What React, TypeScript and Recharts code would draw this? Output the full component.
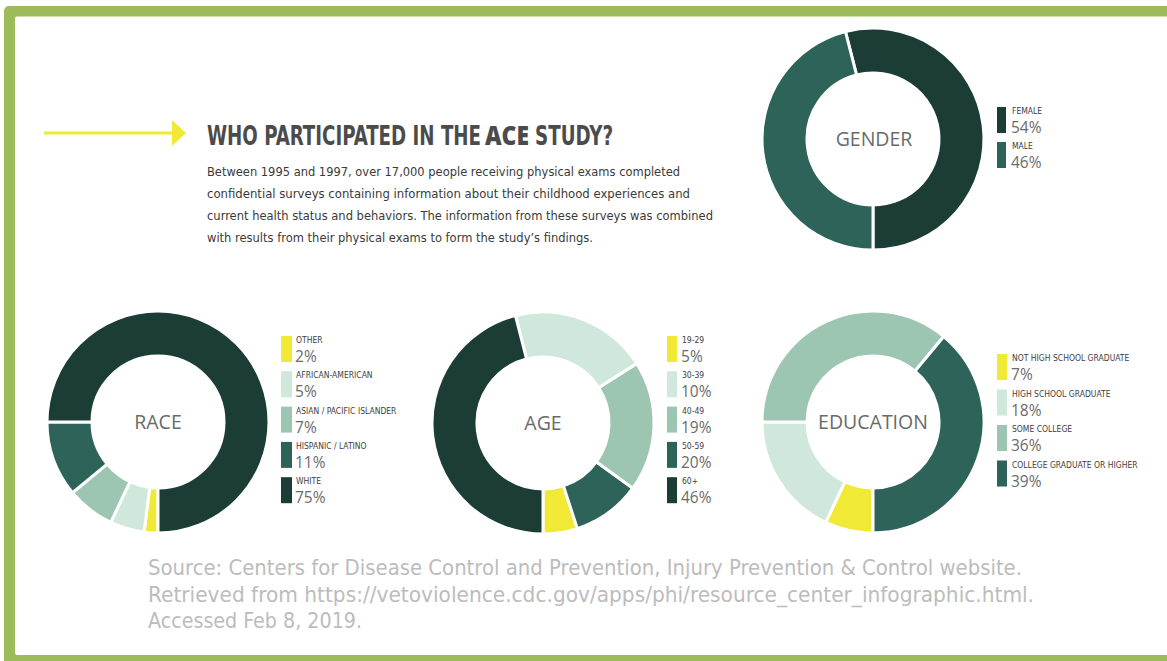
import { PieChart, Pie, Cell } from "recharts";

const palette = {
  dark: "#1c3d35",
  teal: "#2d6358",
  mid: "#9cc5b2",
  light: "#cfe8db",
  yellow: "#f0e935",
};

const genderLabels = ["FEMALE", "MALE"];
const genderValues = [54, 46];
const genderColors = [palette.dark, palette.teal];

const raceLabels = ["OTHER", "AFRICAN-AMERICAN", "ASIAN / PACIFIC ISLANDER", "HISPANIC / LATINO", "WHITE"];
const raceValues = [2, 5, 7, 11, 75];
const raceColors = [palette.yellow, palette.light, palette.mid, palette.teal, palette.dark];

const ageLabels = ["19-29", "30-39", "40-49", "50-59", "60+"];
const ageValues = [5, 10, 19, 20, 46];
const ageColors = [palette.yellow, palette.light, palette.mid, palette.teal, palette.dark];
// the original ring paints 30-39 and 50-59 with each other's colour
const ageSliceColors = [palette.yellow, palette.teal, palette.mid, palette.light, palette.dark];

const educationLabels = ["NOT HIGH SCHOOL GRADUATE", "HIGH SCHOOL GRADUATE", "SOME COLLEGE", "COLLEGE GRADUATE OR HIGHER"];
const educationValues = [7, 18, 36, 39];
const educationColors = [palette.yellow, palette.light, palette.mid, palette.teal];

const bodyLines = [
  "Between 1995 and 1997, over 17,000 people receiving physical exams completed",
  "confidential surveys containing information about their childhood experiences and",
  "current health status and behaviors. The information from these surveys was combined",
  "with results from their physical exams to form the study\u2019s findings.",
];
const bodyWidths = [473, 483, 506, 386];

const sourceLines = [
  "Source: Centers for Disease Control and Prevention, Injury Prevention & Control website.",
  "Retrieved from https://vetoviolence.cdc.gov/apps/phi/resource_center_infographic.html.",
  "Accessed Feb 8, 2019.",
];
const sourceWidths = [874, 886, 214];

const toRows = (labels: string[], values: number[]) =>
  labels.map((name, i) => ({ name, value: values[i] }));

const W = 1167;
const H = 661;
const narrow = "'Liberation Sans Narrow', 'DejaVu Sans Condensed', Roboto, sans-serif";
const soft = "'Open Sans', 'Noto Sans', sans-serif";

function Legend(props: { x: number; y: number; step: number; sw: number; labels: string[]; values: number[]; colors: string[] }) {
  const { x, y, step, sw, labels, values, colors } = props;
  return (
    <g>
      {labels.map((label, i) => {
        const top = y + i * step;
        return (
          <g key={label}>
            <rect x={x} y={top} width={sw} height={26} fill={colors[i]} />
            <text x={x + 15} y={top + 7} fontFamily={narrow} fontSize={8.5} fill="#3d3d3d">
              {label}
            </text>
            <text x={x + 14} y={top + 26} fontFamily={soft} fontSize={15.5} fill="#6b6b6b">
              {values[i]}%
            </text>
          </g>
        );
      })}
    </g>
  );
}

function CenterLabel(props: { x: number; y: number; text: string }) {
  return (
    <text x={props.x} y={props.y + 7} textAnchor="middle" fontFamily={soft} fontSize={19.5} fill="#6a6a6a">
      {props.text}
    </text>
  );
}

export default function App() {
  const ring = { innerRadius: 66, outerRadius: 111, stroke: "#ffffff", strokeWidth: 3, isAnimationActive: false };
  return (
    <div style={{ position: "absolute", left: 0, top: 0, width: W, height: H, background: "#fff", overflow: "hidden" }}>
      <svg width={W} height={H} style={{ position: "absolute", left: 0, top: 0 }}>
        <rect x={4} y={6} width={W + 20} height={H + 20} rx={5} fill="#9dbb5a" />
        <rect x={15} y={16.5} width={W + 20} height={638.5} rx={2} fill="#ffffff" />
      </svg>
      <div style={{ position: "absolute", left: 0, top: 0 }}>
        <PieChart width={W} height={H} margin={{ top: 0, right: 0, bottom: 0, left: 0 }}>
          <Pie data={toRows(genderLabels, genderValues)} dataKey="value" cx={873} cy={139} startAngle={-90} endAngle={270} {...ring}>
            {genderColors.map((c, i) => (
              <Cell key={i} fill={c} />
            ))}
          </Pie>
          <Pie data={toRows(raceLabels, raceValues)} dataKey="value" cx={158} cy={422} startAngle={-90} endAngle={-450} {...ring}>
            {raceColors.map((c, i) => (
              <Cell key={i} fill={c} />
            ))}
          </Pie>
          <Pie data={toRows(ageLabels, ageValues)} dataKey="value" cx={543} cy={423} startAngle={-90} endAngle={270} {...ring}>
            {ageSliceColors.map((c, i) => (
              <Cell key={i} fill={c} />
            ))}
          </Pie>
          <Pie data={toRows(educationLabels, educationValues)} dataKey="value" cx={873} cy={422} startAngle={-90} endAngle={-450} {...ring}>
            {educationColors.map((c, i) => (
              <Cell key={i} fill={c} />
            ))}
          </Pie>
        </PieChart>
      </div>
      <svg width={W} height={H} style={{ position: "absolute", left: 0, top: 0, pointerEvents: "none" }}>
        {/* arrow */}
        <line x1={44} y1={133} x2={174} y2={133} stroke={palette.yellow} strokeWidth={3} />
        <polygon points="172,120 186,133 172,146" fill={palette.yellow} />

        <text x={207} y={145} fontFamily={narrow} fontSize={27} fontWeight={700} fill="#4b4b4b" textLength={274} lengthAdjust="spacingAndGlyphs">
          WHO PARTICIPATED IN THE
        </text>
        <text x={485} y={145} fontFamily={soft} fontSize={27} fontWeight={800} fill="#4b4b4b" textLength={44} lengthAdjust="spacingAndGlyphs">
          ACE
        </text>
        <text x={535} y={145} fontFamily={narrow} fontSize={27} fontWeight={700} fill="#4b4b4b" textLength={78} lengthAdjust="spacingAndGlyphs">
          STUDY?
        </text>

        {bodyLines.map((line, i) => (
          <text key={i} x={207} y={176 + i * 22} fontFamily={narrow} fontSize={13} fill="#3a3a3a" textLength={bodyWidths[i]} lengthAdjust="spacingAndGlyphs">
            {line}
          </text>
        ))}

        <CenterLabel x={874} y={139} text="GENDER" />
        <CenterLabel x={158} y={422} text="RACE" />
        <CenterLabel x={543} y={423} text="AGE" />
        <CenterLabel x={873} y={422} text="EDUCATION" />

        <Legend x={997} y={107} step={35} sw={9} labels={genderLabels} values={genderValues} colors={genderColors} />
        <Legend x={281} y={336} step={35.3} sw={11} labels={raceLabels} values={raceValues} colors={raceColors} />
        <Legend x={667} y={336} step={35.3} sw={10} labels={ageLabels} values={ageValues} colors={ageColors} />
        <Legend x={997} y={354} step={35.5} sw={10} labels={educationLabels} values={educationValues} colors={educationColors} />

        {sourceLines.map((line, i) => (
          <text key={i} x={148} y={575 + i * 26.5} fontFamily={narrow} fontSize={21} fill="#bcbcbc" textLength={sourceWidths[i]} lengthAdjust="spacingAndGlyphs">
            {line}
          </text>
        ))}
      </svg>
    </div>
  );
}
